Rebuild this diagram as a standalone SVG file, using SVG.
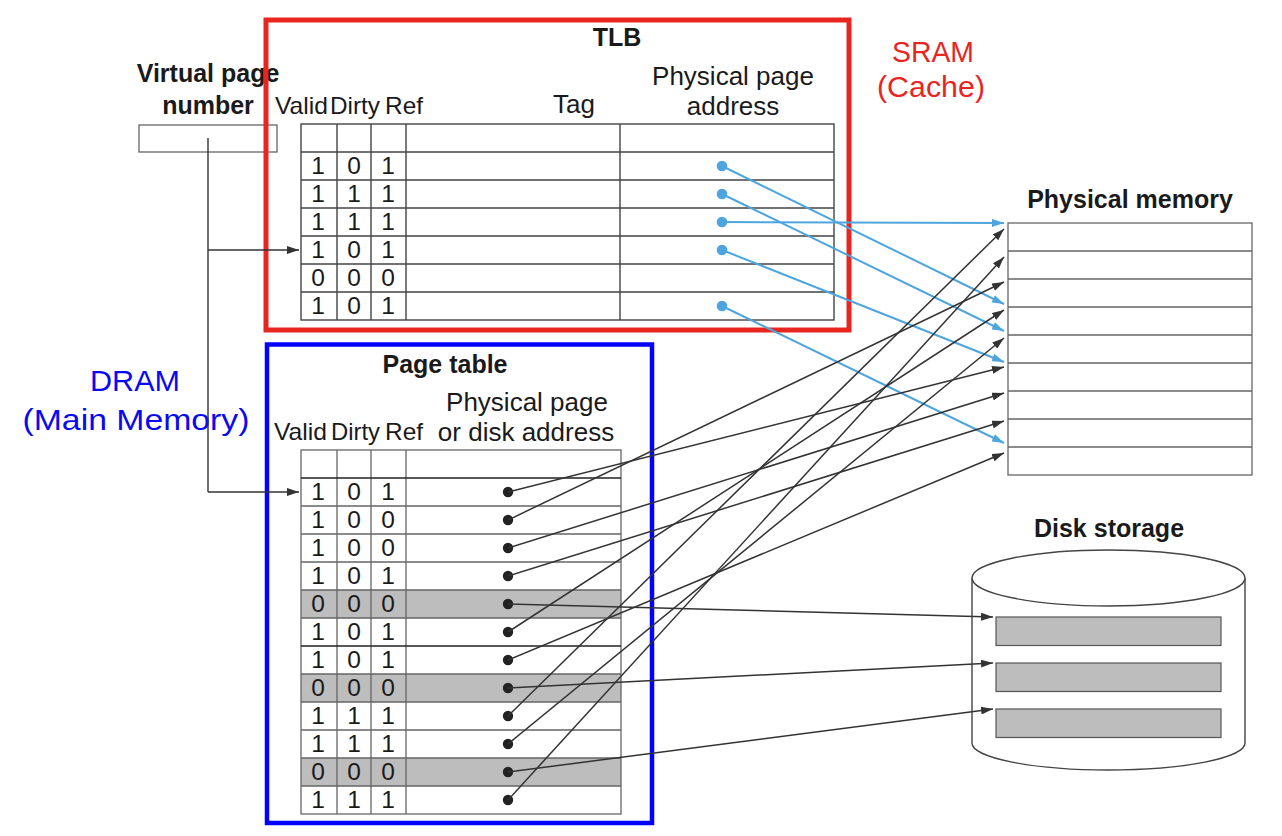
<svg xmlns="http://www.w3.org/2000/svg" width="1282" height="836" viewBox="0 0 1282 836">
<style>
  text { font-family: "Liberation Sans", Arial, sans-serif; fill: #1a1a1a; }
  .title { font-size: 25px; font-weight: bold; text-anchor: middle; }
  .hdr { font-size: 24px; }
  .hdr2 { font-size: 26px; text-anchor: middle; }
  .dig { font-size: 24.5px; text-anchor: middle; }
  .note { font-size: 30px; text-anchor: middle; }
  .grid { fill: none; stroke: #444; stroke-width: 1.4; }
  .gridl { fill: none; stroke: #666; stroke-width: 1.3; }
  .shade { fill: #bdbdbd; }
  .bl { stroke: #333; stroke-width: 1.5; fill: none; marker-end: url(#ahk); }
  .blu { stroke: #4ea5de; stroke-width: 2; fill: none; marker-end: url(#ahb); }
  .dotk { fill: #222; }
  .dotb { fill: #4ea5de; }
</style>
<defs>
  <marker id="ahk" markerUnits="userSpaceOnUse" markerWidth="13" markerHeight="8" refX="12" refY="4" orient="auto">
    <path d="M0,0 L12,4 L0,8 z" fill="#333"/>
  </marker>
  <marker id="ahb" markerUnits="userSpaceOnUse" markerWidth="13" markerHeight="8" refX="12" refY="4" orient="auto">
    <path d="M0,0 L12,4 L0,8 z" fill="#4ea5de"/>
  </marker>
</defs>
<rect width="1282" height="836" fill="#ffffff"/>

<!-- Virtual page number -->
<g id="vpn">
  <text class="title" x="208" y="82">Virtual page</text>
  <text class="title" x="208" y="114">number</text>
  <rect x="139" y="125" width="138" height="27" class="gridl"/>
</g>

<!-- TLB -->
<g id="tlb">
  <rect x="266" y="20" width="583" height="310" fill="none" stroke="#e8251f" stroke-width="5"/>
  <text class="title" x="617" y="46">TLB</text>
  <text class="hdr" x="275" y="114" textLength="53" lengthAdjust="spacingAndGlyphs">Valid</text>
  <text class="hdr" x="330" y="114" textLength="50" lengthAdjust="spacingAndGlyphs">Dirty</text>
  <text class="hdr" x="385" y="114" textLength="38" lengthAdjust="spacingAndGlyphs">Ref</text>
  <text class="hdr2" x="574" y="113">Tag</text>
  <text class="hdr2" x="733" y="85">Physical page</text>
  <text class="hdr2" x="733" y="115">address</text>
  <rect x="301" y="124" width="533" height="196" class="grid"/>
  <path class="grid" d="M301,152H834M301,180H834M301,208H834M301,236H834M301,264H834M301,292H834M337,124V320M371,124V320M406,124V320M620,124V320"/>
  <g>
    <text class="dig" x="318" y="174">1</text><text class="dig" x="354" y="174">0</text><text class="dig" x="388" y="174">1</text>
    <text class="dig" x="318" y="202">1</text><text class="dig" x="354" y="202">1</text><text class="dig" x="388" y="202">1</text>
    <text class="dig" x="318" y="230">1</text><text class="dig" x="354" y="230">1</text><text class="dig" x="388" y="230">1</text>
    <text class="dig" x="318" y="258">1</text><text class="dig" x="354" y="258">0</text><text class="dig" x="388" y="258">1</text>
    <text class="dig" x="318" y="286">0</text><text class="dig" x="354" y="286">0</text><text class="dig" x="388" y="286">0</text>
    <text class="dig" x="318" y="314">1</text><text class="dig" x="354" y="314">0</text><text class="dig" x="388" y="314">1</text>
  </g>
  <circle class="dotb" cx="722" cy="166" r="5.3"/>
  <circle class="dotb" cx="722" cy="194" r="5.3"/>
  <circle class="dotb" cx="722" cy="222" r="5.3"/>
  <circle class="dotb" cx="722" cy="250" r="5.3"/>
  <circle class="dotb" cx="722" cy="306" r="5.3"/>
</g>

<!-- SRAM label -->
<g id="sram-label">
  <text class="note" x="933" y="62" style="fill:#e8251f" textLength="82" lengthAdjust="spacingAndGlyphs">SRAM</text>
  <text class="note" x="931" y="97" style="fill:#e8251f" textLength="108" lengthAdjust="spacingAndGlyphs">(Cache)</text>
</g>

<!-- DRAM label -->
<g id="dram-label">
  <text class="note" x="135" y="391" style="fill:#0a0aee" textLength="90" lengthAdjust="spacingAndGlyphs">DRAM</text>
  <text class="note" x="136" y="430" style="fill:#0a0aee" textLength="227" lengthAdjust="spacingAndGlyphs">(Main Memory)</text>
</g>

<!-- Page table -->
<g id="page-table">
  <rect x="267" y="344.5" width="385" height="478.5" fill="none" stroke="#0000ff" stroke-width="4.5"/>
  <text class="title" x="445" y="373">Page table</text>
  <text class="hdr" x="274" y="440" textLength="53" lengthAdjust="spacingAndGlyphs">Valid</text>
  <text class="hdr" x="331" y="440" textLength="49" lengthAdjust="spacingAndGlyphs">Dirty</text>
  <text class="hdr" x="385" y="440" textLength="38" lengthAdjust="spacingAndGlyphs">Ref</text>
  <text class="hdr2" x="527" y="411">Physical page</text>
  <text class="hdr2" x="526" y="441">or disk address</text>
  <rect class="shade" x="301" y="590" width="320" height="28"/>
  <rect class="shade" x="301" y="674" width="320" height="28"/>
  <rect class="shade" x="301" y="758" width="320" height="28"/>
  <rect x="301" y="450" width="320" height="364" class="gridl"/>
  <path class="gridl" d="M301,506H621M301,534H621M301,562H621M301,590H621M301,618H621M301,674H621M301,702H621M301,730H621M301,758H621M301,786H621M337,450V814M371,450V814M406,450V814"/>
  <path d="M301,478H621M301,646H621" stroke="#222" stroke-width="1.4" fill="none"/>
  <g>
    <text class="dig" x="318" y="500">1</text><text class="dig" x="354" y="500">0</text><text class="dig" x="388" y="500">1</text>
    <text class="dig" x="318" y="528">1</text><text class="dig" x="354" y="528">0</text><text class="dig" x="388" y="528">0</text>
    <text class="dig" x="318" y="556">1</text><text class="dig" x="354" y="556">0</text><text class="dig" x="388" y="556">0</text>
    <text class="dig" x="318" y="584">1</text><text class="dig" x="354" y="584">0</text><text class="dig" x="388" y="584">1</text>
    <text class="dig" x="318" y="612">0</text><text class="dig" x="354" y="612">0</text><text class="dig" x="388" y="612">0</text>
    <text class="dig" x="318" y="640">1</text><text class="dig" x="354" y="640">0</text><text class="dig" x="388" y="640">1</text>
    <text class="dig" x="318" y="668">1</text><text class="dig" x="354" y="668">0</text><text class="dig" x="388" y="668">1</text>
    <text class="dig" x="318" y="696">0</text><text class="dig" x="354" y="696">0</text><text class="dig" x="388" y="696">0</text>
    <text class="dig" x="318" y="724">1</text><text class="dig" x="354" y="724">1</text><text class="dig" x="388" y="724">1</text>
    <text class="dig" x="318" y="752">1</text><text class="dig" x="354" y="752">1</text><text class="dig" x="388" y="752">1</text>
    <text class="dig" x="318" y="780">0</text><text class="dig" x="354" y="780">0</text><text class="dig" x="388" y="780">0</text>
    <text class="dig" x="318" y="808">1</text><text class="dig" x="354" y="808">1</text><text class="dig" x="388" y="808">1</text>
  </g>
  <circle class="dotk" cx="508" cy="492" r="5.2"/>
  <circle class="dotk" cx="508" cy="520" r="5.2"/>
  <circle class="dotk" cx="508" cy="548" r="5.2"/>
  <circle class="dotk" cx="508" cy="576" r="5.2"/>
  <circle class="dotk" cx="508" cy="604" r="5.2"/>
  <circle class="dotk" cx="508" cy="632" r="5.2"/>
  <circle class="dotk" cx="508" cy="660" r="5.2"/>
  <circle class="dotk" cx="508" cy="688" r="5.2"/>
  <circle class="dotk" cx="508" cy="716" r="5.2"/>
  <circle class="dotk" cx="508" cy="744" r="5.2"/>
  <circle class="dotk" cx="508" cy="772" r="5.2"/>
  <circle class="dotk" cx="508" cy="800" r="5.2"/>
</g>

<!-- Physical memory -->
<g id="physical-memory">
  <text class="title" x="1130" y="208">Physical memory</text>
  <rect x="1008" y="223" width="244" height="252" class="gridl"/>
  <path class="gridl" d="M1008,251H1252M1008,279H1252M1008,307H1252M1008,335H1252M1008,363H1252M1008,391H1252M1008,419H1252M1008,447H1252"/>
</g>

<!-- Disk storage -->
<g id="disk-storage">
  <text class="title" x="1109" y="537">Disk storage</text>
  <path d="M972,578 V743 A136.5,27 0 0 0 1245,743 V578" fill="#fff" stroke="#444" stroke-width="1.4"/>
  <ellipse cx="1108.5" cy="578" rx="136.5" ry="28" fill="#fff" stroke="#444" stroke-width="1.4"/>
  <rect x="996" y="617" width="225" height="28.5" fill="#bdbdbd" stroke="#555" stroke-width="1.2"/>
  <rect x="996" y="663" width="225" height="28.5" fill="#bdbdbd" stroke="#555" stroke-width="1.2"/>
  <rect x="996" y="709" width="225" height="28.5" fill="#bdbdbd" stroke="#555" stroke-width="1.2"/>
</g>

<!-- Connectors -->
<g id="connectors">
  <path d="M208,138 V492" stroke="#333" stroke-width="1.4" fill="none"/>
  <path class="bl" d="M208,250 H299"/>
  <path class="bl" d="M208,492 H299"/>
  <line class="blu" x1="722" y1="166" x2="1004" y2="304"/>
  <line class="blu" x1="722" y1="194" x2="1004" y2="331"/>
  <line class="blu" x1="722" y1="222" x2="1004" y2="223"/>
  <line class="blu" x1="722" y1="250" x2="1004" y2="362"/>
  <line class="blu" x1="722" y1="306" x2="1004" y2="443"/>
  <line class="bl" x1="508" y1="492" x2="1004" y2="367"/>
  <line class="bl" x1="508" y1="520" x2="1004" y2="282"/>
  <line class="bl" x1="508" y1="548" x2="1004" y2="393"/>
  <line class="bl" x1="508" y1="576" x2="1004" y2="421"/>
  <line class="bl" x1="508" y1="604" x2="993" y2="617"/>
  <line class="bl" x1="508" y1="632" x2="1004" y2="310"/>
  <line class="bl" x1="508" y1="660" x2="1004" y2="453"/>
  <line class="bl" x1="508" y1="688" x2="993" y2="663"/>
  <line class="bl" x1="508" y1="716" x2="1004" y2="229"/>
  <line class="bl" x1="508" y1="744" x2="1004" y2="338"/>
  <line class="bl" x1="508" y1="772" x2="993" y2="709"/>
  <line class="bl" x1="508" y1="800" x2="1004" y2="257"/>
</g>
</svg>
